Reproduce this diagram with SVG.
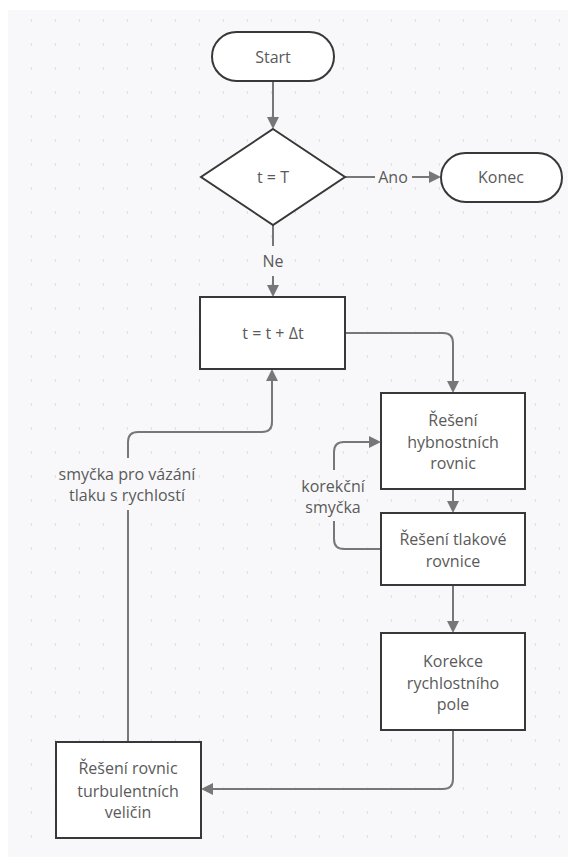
<svg xmlns="http://www.w3.org/2000/svg" width="568" height="857" viewBox="0 0 568 857">
<defs>
<pattern id="dots" x="0" y="0" width="24" height="24" patternUnits="userSpaceOnUse" patternTransform="translate(8,9)">
<circle cx="24" cy="11.5" r="1.3" fill="#dcdce0"/>
</pattern>
<marker id="arr" markerWidth="12" markerHeight="12" refX="10" refY="6" orient="auto" markerUnits="userSpaceOnUse">
<path d="M0,0 L12,6 L0,12 Z" fill="#777"/>
</marker>
<style>
.node{fill:#fff;stroke:#383838;stroke-width:2}
.t{font-family:"Open Sans","Liberation Sans",sans-serif;font-size:16px;fill:#5a5a5a;text-anchor:middle;dominant-baseline:central}
.c{fill:none;stroke:#777;stroke-width:2}
</style>
</defs>
<rect x="0" y="0" width="568" height="857" fill="#fff"/>
<rect x="8" y="10" width="560" height="847" fill="#f8f8fa"/>
<rect x="8" y="10" width="560" height="847" fill="url(#dots)"/>
<g id="connectors">
<path class="c" d="M273,81 V127" marker-end="url(#arr)"/>
<path class="c" d="M345,177 H375"/>
<path class="c" d="M412,177 H439" marker-end="url(#arr)"/>
<path class="c" d="M273,225 V246"/>
<path class="c" d="M273,276 V295" marker-end="url(#arr)"/>
<path class="c" d="M345,333 H443 Q453,333 453,343 V391" marker-end="url(#arr)"/>
<path class="c" d="M453,489 V511" marker-end="url(#arr)"/>
<path class="c" d="M381,549 H344 Q334,549 334,539 V521"/>
<path class="c" d="M334,470 V452 Q334,442 344,442 H379" marker-end="url(#arr)"/>
<path class="c" d="M453,585 V631" marker-end="url(#arr)"/>
<path class="c" d="M453,730 V779 Q453,789 443,789 H203" marker-end="url(#arr)"/>
<path class="c" d="M128,742 V510"/>
<path class="c" d="M128,458 V442 Q128,432 138,432 H262 Q272,432 272,422 V371" marker-end="url(#arr)"/>
<text class="t" x="393" y="177">Ano</text>
<text class="t" x="273" y="261">Ne</text>
<text class="t" x="333" y="486">korekční</text>
<text class="t" x="333" y="507">smyčka</text>
<text class="t" x="127" y="474">smyčka pro vázání</text>
<text class="t" x="127" y="495">tlaku s rychlostí</text>
</g>
<g id="start">
<rect class="node" x="212" y="32" width="122" height="49" rx="24.5"/>
<text class="t" x="273" y="57">Start</text>
</g>
<g id="decision">
<path class="node" d="M273,129 L345,177 L273,225 L201,177 Z"/>
<text class="t" x="273" y="177">t = T</text>
</g>
<g id="konec">
<rect class="node" x="441" y="153" width="121" height="49" rx="24.5"/>
<text class="t" x="501" y="177">Konec</text>
</g>
<g id="step">
<rect class="node" x="200" y="297" width="145" height="72"/>
<text class="t" x="273" y="333">t = t + Δt</text>
</g>
<g id="hybnost">
<rect class="node" x="381" y="393" width="144" height="96"/>
<text class="t" x="453" y="420">Řešení</text>
<text class="t" x="453" y="442">hybnostních</text>
<text class="t" x="453" y="463">rovnic</text>
</g>
<g id="tlak">
<rect class="node" x="381" y="513" width="144" height="72"/>
<text class="t" x="453" y="539">Řešení tlakové</text>
<text class="t" x="453" y="561">rovnice</text>
</g>
<g id="korekce">
<rect class="node" x="381" y="633" width="144" height="97"/>
<text class="t" x="453" y="661">Korekce</text>
<text class="t" x="453" y="683">rychlostního</text>
<text class="t" x="453" y="704">pole</text>
</g>
<g id="turb">
<rect class="node" x="56" y="742" width="145" height="96"/>
<text class="t" x="128" y="768">Řešení rovnic</text>
<text class="t" x="128" y="791">turbulentních</text>
<text class="t" x="128" y="812">veličin</text>
</g>
</svg>
